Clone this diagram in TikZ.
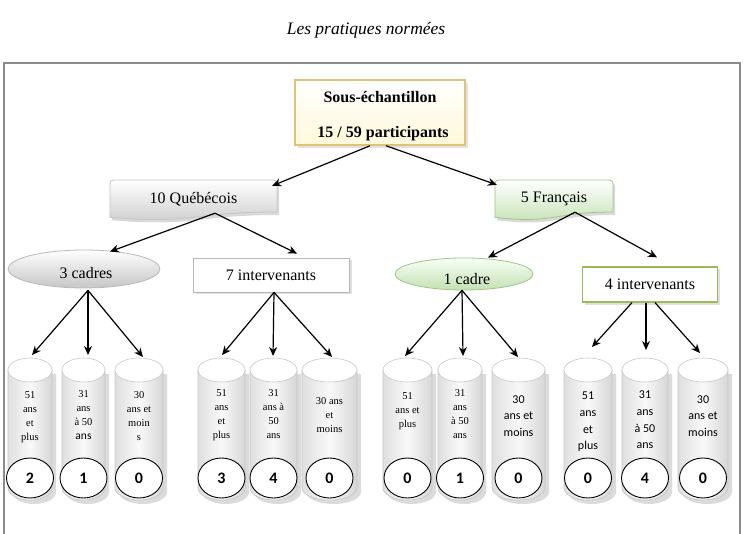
\documentclass[tikz,border=0pt]{standalone}
\usepackage{fontspec}
\setmainfont{Liberation Serif}
\newfontfamily\carlito{Carlito}
\usetikzlibrary{arrows.meta,shapes.geometric,shadows,calc}
\definecolor{goldb}{RGB}{222,194,118}
\definecolor{creamb}{RGB}{255,248,218}
\definecolor{grnbot}{RGB}{196,225,178}
\definecolor{grnedge}{RGB}{160,196,140}
\definecolor{olivec}{RGB}{155,187,89}
\definecolor{framec}{RGB}{140,140,140}
\tikzset{
  arr/.style={-{Stealth[length=9pt,width=8pt]}, line width=1.2pt},
  numell/.style={ellipse, draw, line width=0.9pt, fill=white, minimum width=47pt, minimum height=40pt, inner sep=0pt, font=\carlito\bfseries\fontsize{16}{16}\selectfont},
  cyltxt/.style={align=center, inner sep=0pt, font=\fontsize{10.5}{14}\selectfont},
  cyltxts/.style={align=center, inner sep=0pt, font=\carlito\fontsize{12}{16.7}\selectfont},
  lbl/.style={font=\fontsize{16}{18}\selectfont, inner sep=0pt, anchor=base},
  blbl/.style={font=\bfseries\fontsize{16}{18}\selectfont, inner sep=0pt, anchor=base},
  topbox/.style={rectangle, draw=goldb, line width=1.5pt, top color=white, bottom color=creamb, minimum width=170pt, minimum height=65pt, drop shadow={shadow xshift=3pt, shadow yshift=-3pt, fill=gray!45}},
  ellgray/.style={ellipse, draw=gray!55, line width=0.8pt, top color=white, bottom color=gray!45},
  ellgreen/.style={ellipse, draw=grnedge, line width=0.8pt, top color=green!3, bottom color=grnbot},
  boxgray/.style={rectangle, draw=gray!55, line width=0.8pt, fill=white, font=\fontsize{16}{18}\selectfont, drop shadow={shadow xshift=2.5pt, shadow yshift=-2.5pt, fill=gray!50}},
  boxgreen/.style={rectangle, draw=olivec, line width=1.2pt, fill=white, font=\fontsize{16}{18}\selectfont, drop shadow={shadow xshift=2.5pt, shadow yshift=-2.5pt, fill=gray!50}},
}
\newcommand\mybanner[8]{%
  \begin{scope}[shift={(2,3)}]
    \fill[gray!30] ({#2},{#3+5}) .. controls ({#2},{#3+1}) and ({#2+1},{#3}) .. ({#2+5},{#3}) -- ({#4-5},{#3}) .. controls ({#4-1},{#3}) and ({#4},{#3+1}) .. ({#4},{#3+5}) -- ({#4},{#3+0.8*(#5-#3)}) .. controls ({(#2+#4)/2},{#3+0.8*(#5-#3)}) and ({(#2+#4)/2},{#3+1.107*(#5-#3)}) .. ({#2},{#3+0.934*(#5-#3)}) -- cycle;
  \end{scope}
  \shade[top color=white, bottom color=#6, draw=#7, line width=0.8pt] ({#2},{#3+5}) .. controls ({#2},{#3+1}) and ({#2+1},{#3}) .. ({#2+5},{#3}) -- ({#4-5},{#3}) .. controls ({#4-1},{#3}) and ({#4},{#3+1}) .. ({#4},{#3+5}) -- ({#4},{#3+0.8*(#5-#3)}) .. controls ({(#2+#4)/2},{#3+0.8*(#5-#3)}) and ({(#2+#4)/2},{#3+1.107*(#5-#3)}) .. ({#2},{#3+0.934*(#5-#3)}) -- cycle;
  \node[inner sep=0pt, minimum width={(#4-#2)*1pt}, minimum height={(#5-#3)*1pt}, font=\fontsize{16}{18}\selectfont] (#1) at ({(#2+#4)/2},{(#3+#5)/2-1}) {#8};
}
\newcommand\mycyl[8]{%
  \fill[gray!28] ({#2-#3/2+4},374) -- ({#2-#3/2+4},492) arc[start angle=180,end angle=0,x radius={#3/2},y radius=12] -- ({#2+#3/2+4},374) -- cycle;
  \shade[left color=gray!25, right color=gray!32, middle color=gray!5, draw=gray!45, line width=0.6pt] ({#2-#3/2},370) -- ({#2-#3/2},488) arc[start angle=180,end angle=0,x radius={#3/2},y radius=12] -- ({#2+#3/2},370) -- cycle;
  \draw[gray!45, fill=white, line width=0.6pt] (#2,370) ellipse [x radius={#3/2}, y radius=12];
  \node[#6] (#1t) at (#2,#7) {#4};
  \node[numell] (#1n) at (#2,478) {#5};
  \coordinate (#1) at #8;
}
\begin{document}
\begin{tikzpicture}[x=1pt,y=-1pt]
\useasboundingbox (0,0) rectangle (746,534);
% title
\node[font=\itshape\fontsize{17.5}{20}\selectfont, anchor=base, inner sep=0pt] (title) at (366,35) {Les pratiques normées};
% frame
\draw[framec, line width=2pt] (4,534) -- (4,63) -- (740,63) -- (740,534);
% top box
\node[topbox] (top) at (380,112.5) {};
\node[blbl] (toptxta) at (380,103) {Sous-échantillon};
\node[blbl] (toptxtb) at (383,138) {15 / 59 participants};
% banners
\mybanner{qc}{110}{180}{277}{220}{gray!40}{gray!45}{10 Québécois}
\mybanner{fr}{495}{180}{613}{220}{grnbot}{grnedge}{5 Français}
% second level
\node[ellgray, minimum width=152pt, minimum height=38pt] (c3) at (84,269) {};
\node[lbl] (c3t) at (86,279) {3 cadres};
\node[boxgray, minimum width=156pt, minimum height=34pt] (i7) at (271,275) {7 intervenants};
\node[ellgreen, minimum width=138pt, minimum height=32pt] (c1) at (464,274) {};
\node[lbl] (c1t) at (467,285) {1 cadre};
\node[boxgreen, minimum width=135pt, minimum height=35pt] (i4) at (650,284.5) {4 intervenants};
% cylinders
\mycyl{k1}{30}{44}{51\\ans\\et\\plus}{2}{cyltxt}{417}{(32,355)}
\mycyl{k2}{83.5}{43}{31\\ans\\à 50\\{\carlito\fontsize{11.5}{14}\selectfont ans}}{1}{cyltxt}{415}{(88,355)}
\mycyl{k3}{139}{48}{30\\ans et\\moin\\s}{0}{cyltxt}{416}{(143,357)}
\mycyl{k4}{221.5}{47}{51\\ans\\et\\plus}{3}{cyltxt}{415}{(222,355)}
\mycyl{k5}{273.5}{47}{31\\ans à\\50\\ans}{4}{cyltxt}{414}{(273,356)}
\mycyl{k6}{329.5}{55}{30 ans\\et\\moins}{0}{cyltxt}{415}{(332,357)}
\mycyl{k7}{407.5}{49}{51\\ans et\\plus}{0}{cyltxt}{411}{(405,356)}
\mycyl{k8}{460}{44}{31\\ans\\à 50\\ans}{1}{cyltxt}{414}{(463,356)}
\mycyl{k9}{518.5}{53}{30\\ans et\\moins}{0}{cyltxts}{416}{(518,357)}
\mycyl{k10}{588}{48}{51\\ans\\et\\plus}{0}{cyltxts}{422}{(592,347)}
\mycyl{k11}{645}{46}{31\\ans\\à 50\\ans}{4}{cyltxts}{420}{(646,350)}
\mycyl{k12}{703}{50}{30\\ans et\\moins}{0}{cyltxts}{416}{(700,353)}
% connectors
\draw[arr] ($(top.south)+(-10,0)$) -- ($(qc.north east)+(-5,7)$);
\draw[arr] ($(top.south)+(6,0)$) -- ($(fr.north west)+(2,6)$);
\draw[arr] ($(qc.south)+(21.5,-6)$) -- ($(c3.north)+(26,2)$);
\draw[arr] ($(qc.south)+(21.5,-6)$) -- ($(i7.north)+(26,-4)$);
\draw[arr] ($(fr.south)+(21,-7)$) -- ($(c1.north)+(24,0)$);
\draw[arr] ($(fr.south)+(21,-7)$) -- ($(i4.north)+(7,-9)$);
\foreach \t in {k1,k2,k3} \draw[arr] ($(c3.south)+(4,2)$) -- (\t);
\foreach \t in {k4,k5,k6} \draw[arr] ($(i7.south)+(3,0)$) -- (\t);
\foreach \t in {k7,k8,k9} \draw[arr] ($(c1.south)+(-2,0)$) -- (\t);
\draw[arr] ($(i4.south)+(-18,0)$) -- (k10);
\draw[arr] ($(i4.south)+(-4,0)$) -- (k11);
\draw[arr] ($(i4.south)+(5,0)$) -- (k12);
\end{tikzpicture}
\end{document}
